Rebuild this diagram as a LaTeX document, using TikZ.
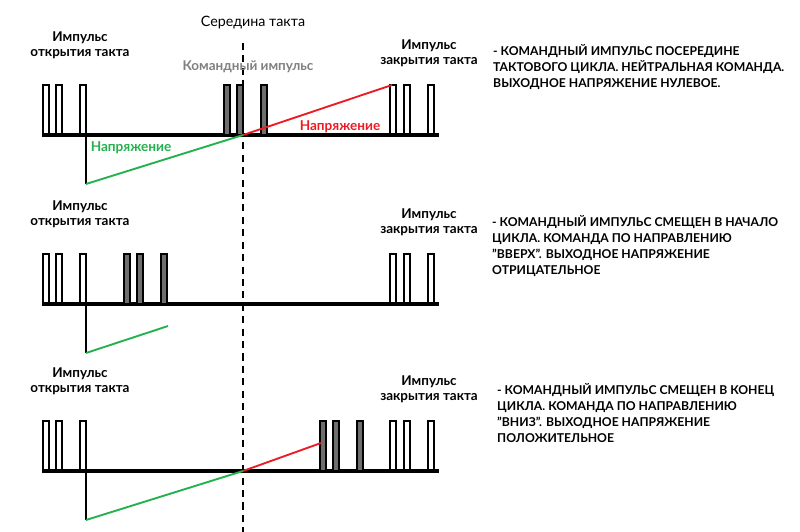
\documentclass[tikz,border=0pt]{standalone}
\usepackage{fontspec}
\setmainfont{Lato}
\usetikzlibrary{positioning}
\definecolor{volgreen}{RGB}{34,177,76}
\definecolor{volred}{RGB}{237,28,36}
\definecolor{cmdgray}{RGB}{110,110,110}
\definecolor{txtgray}{RGB}{128,128,128}
\newcommand{\qq}{\symbol{34}}
\tikzset{
  pulse/.style={draw=black,line width=1.4pt,fill=white},
  cmdpulse/.style={draw=black,line width=1.4pt,fill=cmdgray},
  baseln/.style={line width=2.6pt},
  drop/.style={line width=1.6pt},
  midline/.style={line width=1.7pt,dash pattern=on 6pt off 4.6pt},
  lbl/.style={font=\fontsize{11.5}{12.6}\selectfont\bfseries,align=center,inner sep=0pt},
  note/.style={font=\fontsize{10.4}{13.6}\selectfont\bfseries,align=left,anchor=north west,inner sep=0pt}
}
\begin{document}
\begin{tikzpicture}[x=0.03cm,y=-0.03cm]
  \useasboundingbox (0,0) rectangle (800,532);
  % timing rows: baseline, open and close pulses, labels
  \foreach \i/\b in {1/135,2/304,3/471}{
    \foreach \x in {43,56,80}{\draw[pulse] (\x,\b) rectangle ++(6,-50);}
    \foreach \x in {390,404,428}{\draw[pulse] (\x,\b) rectangle ++(6,-50);}
    \draw[baseln] (42,\b)--(439,\b);
    \node[lbl] (open\i) at (80,\b-90){Импульс\\открытия такта};
    \node[lbl] (close\i) at (429,\b-82){Импульс\\закрытия такта};
  }
  % command pulses
  \foreach \x in {224,237,261}{\draw[cmdpulse] (\x,135) rectangle ++(6,-50);}
  \foreach \x in {124,137,161}{\draw[cmdpulse] (\x,304) rectangle ++(6,-50);}
  \foreach \x in {320,333,357}{\draw[cmdpulse] (\x,471) rectangle ++(6,-50);}
  % middle of the cycle
  \coordinate (mtop) at (243,43);
  \coordinate (mbot) at (243,532);
  \draw[midline] (mtop)--(mbot);
  \node[font=\fontsize{12.2}{14}\selectfont,inner sep=0pt] (mid) at (253,23){Середина такта};
  \node[font=\fontsize{11.5}{13}\selectfont\bfseries,text=txtgray,inner sep=0pt] (cmd) at (248,67){Командный импульс};
  % output voltage
  \coordinate (a1) at (86,135); \coordinate (b1) at (86,184);
  \coordinate (c1) at (243,135); \coordinate (d1) at (392,85);
  \draw[drop] (a1)--(b1);
  \draw[volgreen,drop] (b1)--(c1);
  \draw[volred,drop] (c1)--(d1);
  \coordinate (a2) at (86,304); \coordinate (b2) at (86,353);
  \coordinate (c2) at (168,326);
  \draw[drop] (a2)--(b2);
  \draw[volgreen,drop] (b2)--(c2);
  \coordinate (a3) at (86,471); \coordinate (b3) at (86,520);
  \coordinate (c3) at (243,471); \coordinate (d3) at (321,443);
  \draw[drop] (a3)--(b3);
  \draw[volgreen,drop] (b3)--(c3);
  \draw[volred,drop] (c3)--(d3);
  \node[font=\fontsize{11.6}{13}\selectfont\bfseries,text=volgreen,inner sep=0pt] (ug) at (131,148){Напряжение};
  \node[font=\fontsize{11.6}{13}\selectfont\bfseries,text=volred,inner sep=0pt] (ur) at (340,127){Напряжение};
  % notes
  \node[note] (n1) at (493,44){- КОМАНДНЫЙ ИМПУЛЬС ПОСЕРЕДИНЕ\\ТАКТОВОГО ЦИКЛА. НЕЙТРАЛЬНАЯ КОМАНДА.\\ВЫХОДНОЕ НАПРЯЖЕНИЕ НУЛЕВОЕ.};
  \node[note] (n2) at (492,215){- КОМАНДНЫЙ ИМПУЛЬС СМЕЩЕН В НАЧАЛО\\ЦИКЛА. КОМАНДА ПО НАПРАВЛЕНИЮ\\\qq ВВЕРХ\qq. ВЫХОДНОЕ НАПРЯЖЕНИЕ\\ОТРИЦАТЕЛЬНОЕ};
  \node[note] (n3) at (497,383){- КОМАНДНЫЙ ИМПУЛЬС СМЕЩЕН В КОНЕЦ\\ЦИКЛА. КОМАНДА ПО НАПРАВЛЕНИЮ\\\qq ВНИЗ\qq. ВЫХОДНОЕ НАПРЯЖЕНИЕ\\ПОЛОЖИТЕЛЬНОЕ};
\end{tikzpicture}
\end{document}
